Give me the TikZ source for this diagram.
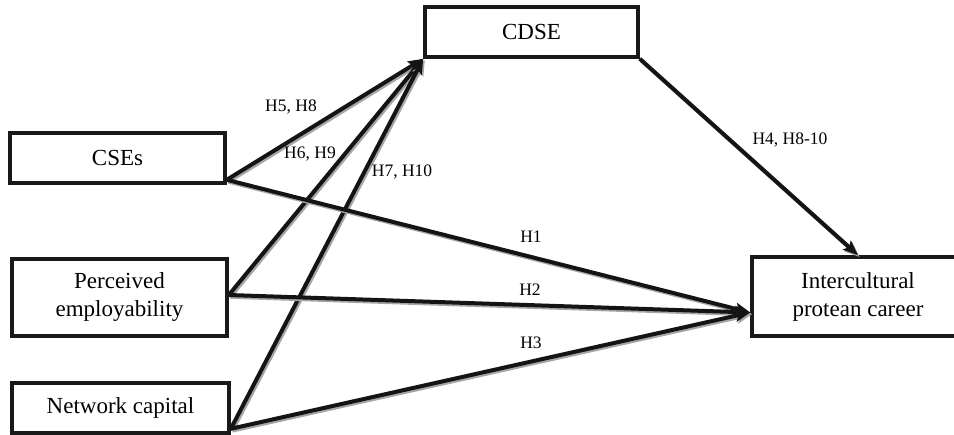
\documentclass[tikz,border=0pt]{standalone}
\usepackage{fontspec}
\setmainfont{Liberation Serif}
\usetikzlibrary{arrows.meta}
\tikzset{
  box/.style={draw=black!90, line width=3.6pt, fill=white, inner sep=0pt, align=center,
    font=\fontsize{23}{28}\selectfont},
  lab/.style={font=\fontsize{17.5}{20}\selectfont, inner sep=0pt},
  conn/.style={line width=4pt, draw=black!92, -{Stealth[length=15pt,width=12pt,inset=3pt]},
    preaction={draw=black!35, line width=4pt, transform canvas={xshift=1.6pt,yshift=-1.8pt}}}
}
\begin{document}
\begin{tikzpicture}[x=1pt,y=-1pt]
\useasboundingbox (0,0) rectangle (954,435);
% nodes
\node[box, minimum width=215pt, minimum height=50pt] (cse) at (117.5,158) {CSEs};
\node[box, minimum width=215pt, minimum height=77pt] (pe) at (119.5,297.5) {Perceived\\employability};
\node[box, minimum width=217pt, minimum height=50pt] (nc) at (120.5,408) {Network capital};
\node[box, minimum width=213pt, minimum height=50pt] (cdse) at (531.5,32) {CDSE};
\node[box, minimum width=212pt, minimum height=79pt] (ipc) at (858,296.5) {Intercultural\\protean career};
% attachment points
\coordinate (cseo) at ([yshift=5pt]cse.south east);
\coordinate (peo) at ([yshift=2.5pt]pe.east);
\coordinate (nco) at ([yshift=6pt]nc.south east);
\coordinate (ipcin) at ([yshift=-16pt]ipc.west);
% connectors
\draw[conn] (cseo) -- (cdse.south west);
\draw[conn] (peo) -- (cdse.south west);
\draw[conn] (nco) -- (cdse.south west);
\draw[conn] (cseo) -- (ipcin);
\draw[conn] (peo) -- (ipcin);
\draw[conn] (nco) -- (ipcin);
\draw[conn] (cdse.south east) -- (ipc.north);
% redraw boxes on top for clean corners
\node[box, minimum width=215pt, minimum height=50pt] at (117.5,158) {CSEs};
\node[box, minimum width=215pt, minimum height=77pt] at (119.5,297.5) {Perceived\\employability};
\node[box, minimum width=217pt, minimum height=50pt] at (120.5,408) {Network capital};
\node[box, minimum width=213pt, minimum height=50pt] at (531.5,32) {CDSE};
% labels
\node[lab] (l58) at (291,107) {H5, H8};
\node[lab] (l69) at (310,154) {H6, H9};
\node[lab] (l710) at (402,172) {H7, H10};
\node[lab] (l4) at (790,140) {H4, H8-10};
\node[lab] (l1) at (531,237) {H1};
\node[lab] (l2) at (530,290) {H2};
\node[lab] (l3) at (531,343) {H3};
\end{tikzpicture}
\end{document}
